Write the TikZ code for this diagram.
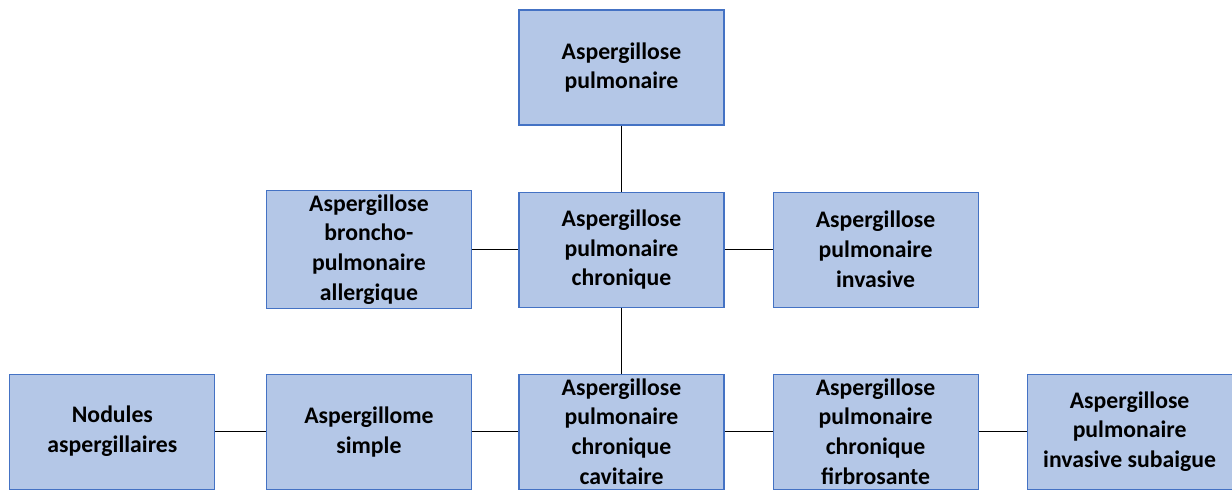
\documentclass[tikz,border=0pt]{standalone}
\usepackage{fontspec}
\setmainfont{Carlito}
\usetikzlibrary{positioning}
\definecolor{boxfill}{HTML}{B4C7E7}
\definecolor{boxline}{HTML}{4472C4}

\begin{document}
\begin{tikzpicture}[font=\bfseries\fontsize{13.5}{17}\selectfont,
  box/.style={draw=boxline, fill=boxfill, line width=0.6pt, minimum width=4.1cm, minimum height=2.3cm, align=center, inner sep=2pt},
  link/.style={line width=0.8pt}]

\useasboundingbox (0,0) rectangle (24.64,-9.78);

\node[box] (apul) at (12.43,-1.35) {Aspergillose\\pulmonaire};

\node[box, below=1.32cm of apul] (apc) {Aspergillose\\pulmonaire\\chronique};
\node[box, left=0.93cm of apc] (abpa) {Aspergillose\\broncho-\\pulmonaire\\allergique};
\node[box, right=0.96cm of apc] (api) {Aspergillose\\pulmonaire\\invasive};

\node[box, below=1.32cm of apc] (apcc) {Aspergillose\\pulmonaire\\chronique\\cavitaire};
\node[box, left=0.93cm of apcc] (asimple) {Aspergillome\\simple};
\node[box, left=1.01cm of asimple] (nodules) {Nodules\\aspergillaires};
\node[box, right=0.96cm of apcc] (apcf) {Aspergillose\\pulmonaire\\chronique\\firbrosante};
\node[box, right=0.96cm of apcf] (apis) {Aspergillose\\pulmonaire\\invasive subaigue};

\draw[link] (apul) -- (apc);
\draw[link] (abpa) -- (apc);
\draw[link] (apc) -- (api);
\draw[link] (apc) -- (apcc);

\draw[link] (nodules) -- (asimple);
\draw[link] (asimple) -- (apcc);
\draw[link] (apcc) -- (apcf);
\draw[link] (apcf) -- (apis);

\end{tikzpicture}
\end{document}
